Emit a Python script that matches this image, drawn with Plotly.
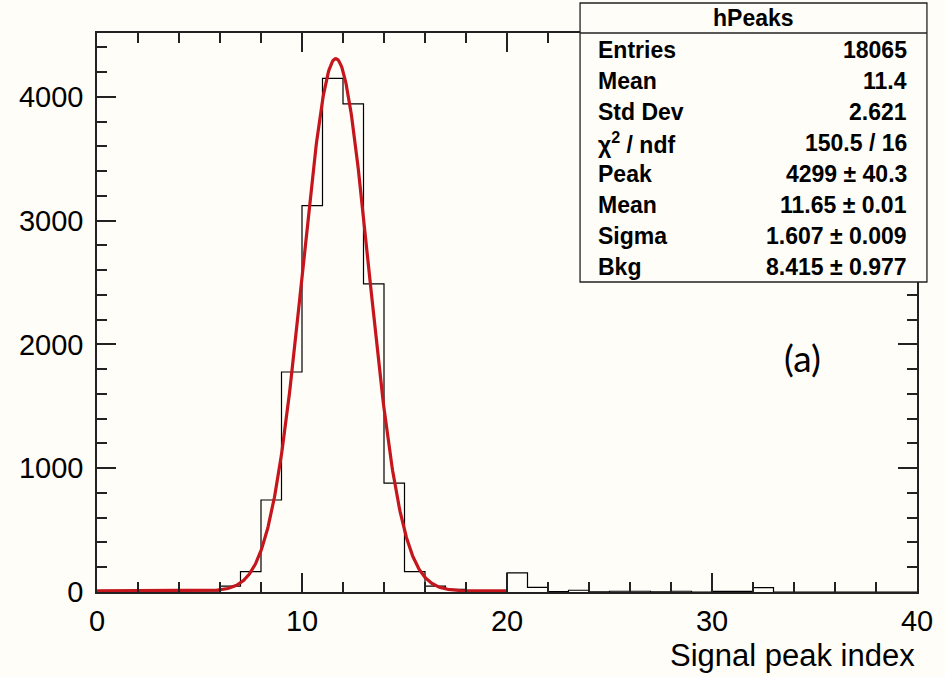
import numpy as np
import plotly.graph_objects as go

# ---------------- data ----------------
bin_edges = list(range(0, 41))
counts = [0, 0, 0, 0, 0, 0, 48, 164, 743, 1777,
          3120, 4149, 3942, 2488, 880, 164, 48, 22, 10, 5,
          155, 38, 3, 14, 2, 6, 6, 2, 6, 0,
          5, 5, 35, 0, 0, 0, 0, 0, 0, 0]

# fit parameters (gaus + constant background), fit range 0..20
fit_peak = 4299.0
fit_mean = 11.65
fit_sigma = 1.607
fit_bkg = 8.415
fit_range = (0.0, 20.0)

x_ticks = [0, 10, 20, 30, 40]
y_ticks = [0, 1000, 2000, 3000, 4000]

stats_title = "hPeaks"
stats_labels = ["Entries", "Mean", "Std Dev", "χ<sup>2</sup> / ndf", "Peak", "Mean", "Sigma", "Bkg"]
stats_values = ["18065", "11.4", "2.621", "150.5 / 16", "4299 ± 40.3", "11.65 ± 0.01",
                "1.607 ± 0.009", "8.415 ± 0.977"]

# ---------------- layout geometry ----------------
W, H = 945, 677
L, R, T, B = 97, 922, 33, 592
PW, PH = R - L, B - T

def px(xp):
    return (xp - L) / PW

def py(yp):
    return (B - yp) / PH

BG = "#fffdf7"
FONT = "Liberation Sans, Arial, Helvetica, sans-serif"
RED = "#c4161c"

fig = go.Figure()

# histogram as step outline
step_x = bin_edges
step_y = counts + [counts[-1]]
fig.add_trace(go.Scatter(x=step_x, y=step_y, mode="lines",
                         line=dict(color="black", width=1.2, shape="hv"),
                         hoverinfo="skip", showlegend=False))

# fit function
fx = np.linspace(fit_range[0], fit_range[1], 600)
fy = fit_peak * np.exp(-0.5 * ((fx - fit_mean) / fit_sigma) ** 2) + fit_bkg
fig.add_trace(go.Scatter(x=fx, y=fy, mode="lines",
                         line=dict(color=RED, width=3.2),
                         hoverinfo="skip", showlegend=False))

axis_common = dict(
    showline=True, linecolor="#222", linewidth=1.5, mirror="ticks",
    ticks="inside", tickcolor="#222", tickwidth=1.5, ticklen=19,
    showgrid=False, zeroline=False,
    tickfont=dict(family=FONT, size=29, color="black"),
)

fig.update_xaxes(range=[0, 40], tickvals=x_ticks, ticktext=[str(v) for v in x_ticks],
                 minor=dict(dtick=2, tick0=0, ticks="inside", ticklen=10,
                            tickcolor="#222", tickwidth=1.5, showgrid=False),
                 ticklabelstandoff=2,
                 **axis_common)
fig.update_yaxes(range=[0, 4515], tickvals=y_ticks, ticktext=[str(v) for v in y_ticks],
                 minor=dict(dtick=200, tick0=0, ticks="inside", ticklen=10,
                            tickcolor="#222", tickwidth=1.5, showgrid=False),
                 ticklabelstandoff=6,
                 **axis_common)

shapes = []
# stats box
bx0, bx1, by0, by1 = 583, 932, 3, 282
shapes.append(dict(type="rect", xref="paper", yref="paper",
                   x0=px(bx0), x1=px(bx1), y0=py(by1), y1=py(by0),
                   line=dict(color="#222", width=1.3), fillcolor=BG, layer="above"))
shapes.append(dict(type="line", xref="paper", yref="paper",
                   x0=px(bx0), x1=px(bx1), y0=py(33), y1=py(33),
                   line=dict(color="#222", width=1.3), layer="above"))

SFS = 23
annotations = []
annotations.append(dict(text="<b>%s</b>" % stats_title, xref="paper", yref="paper",
                        x=px((bx0 + bx1) / 2), y=py(18), xanchor="center", yanchor="middle",
                        showarrow=False, font=dict(family=FONT, size=SFS, color="black")))
row_y0, row_dy = 50, 31
for i, (lab, val) in enumerate(zip(stats_labels, stats_values)):
    yy = row_y0 + i * row_dy
    annotations.append(dict(text="<b>%s</b>" % lab, xref="paper", yref="paper",
                            x=px(599), y=py(yy), xanchor="left", yanchor="middle",
                            showarrow=False, font=dict(family=FONT, size=SFS, color="black")))
    annotations.append(dict(text="<b>%s</b>" % val, xref="paper", yref="paper",
                            x=px(914), y=py(yy), xanchor="right", yanchor="middle",
                            showarrow=False, font=dict(family=FONT, size=SFS, color="black")))

# (a) label
annotations.append(dict(text="(a)", xref="paper", yref="paper",
                        x=px(807), y=py(357), xanchor="center", yanchor="middle",
                        showarrow=False, font=dict(family="Lato, Open Sans, sans-serif", size=37, color="black")))
# x axis title
annotations.append(dict(text="Signal peak index", xref="paper", yref="paper",
                        x=px(922), y=py(655), xanchor="right", yanchor="middle",
                        showarrow=False, font=dict(family=FONT, size=31, color="black")))

fig.update_layout(width=W, height=H, margin=dict(l=L, r=W - R, t=T, b=H - B, pad=0),
                  paper_bgcolor=BG, plot_bgcolor=BG, shapes=shapes, annotations=annotations,
                  showlegend=False)

fig.write_html("out.html")
